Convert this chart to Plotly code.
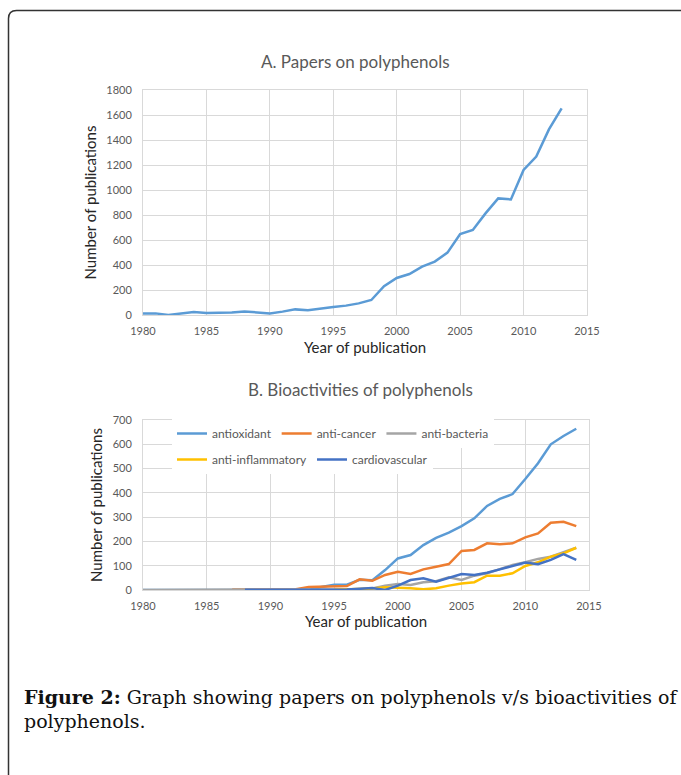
import plotly.graph_objects as go

W, H = 681, 775

# ---- data ----
years_a = list(range(1980, 2014))
papers = [13, 13, 0, 13, 24, 16, 16, 21, 29, 21, 13, 27, 45, 38, 48, 64, 75, 93, 120,
          230, 296, 328, 387, 427, 499, 648, 680, 813, 933, 925, 1160, 1267, 1485, 1653]

years_b = list(range(1980, 2015))
antioxidant = [0, 0, 3, 0, 2, 0, 0, 0, 0, 0, 0, 0, 0, 0, 12, 22, 22, 42, 40, 82,
               130, 144, 185, 215, 236, 263, 295, 346, 375, 395, 457, 522, 600, 634, 664]
anti_cancer = [None] * 7 + [2, 2, 1, 1, 2, 3, 12, 13, 14, 16, 44, 38, 62, 75, 66, 85, 96,
                            107, 161, 165, 192, 188, 192, 217, 233, 277, 281, 263]
anti_bacteria = [0] * 17 + [3, 6, 18, 25, 21, 32, 36, 52, 41, 59, 69, 86, 103, 114, 128,
                            137, 154, 174]
anti_inflammatory = [None] * 15 + [1, 2, 4, 6, 11, 10, 7, 3, 7, 18, 27, 32, 59, 59, 69,
                                   99, 114, 137, 151, 174]
cardiovascular = [None] * 8 + [1, 1, 1, 1, 2, 2, 2, 2, 2, 5, 8, 0, 18, 41, 48, 34, 51, 66,
                               62, 71, 85, 100, 113, 106, 124, 148, 124]

series_b = [
    ("antioxidant", antioxidant, "#5B9BD5", "legend"),
    ("anti-cancer", anti_cancer, "#ED7D31", "legend"),
    ("anti-bacteria", anti_bacteria, "#A5A5A5", "legend"),
    ("anti-inflammatory", anti_inflammatory, "#FFC000", "legend2"),
    ("cardiovascular", cardiovascular, "#4472C4", "legend2"),
]

FONT = "Lato"
GRAY = "#595959"
GRID = "#D9D9D9"


def px_x(p):
    return p / W


def px_y(p):
    return 1 - p / H


fig = go.Figure()

fig.add_trace(go.Scatter(x=years_a, y=papers, mode="lines", xaxis="x", yaxis="y",
                         line=dict(color="#5B9BD5", width=2.5), showlegend=False,
                         name="polyphenols"))

for name, vals, col, lg in series_b:
    fig.add_trace(go.Scatter(x=years_b, y=vals, mode="lines", xaxis="x2", yaxis="y2",
                             line=dict(color=col, width=2.5), name=name, legend=lg))

axis_common = dict(showgrid=True, gridcolor=GRID, gridwidth=1, zeroline=False,
                   showline=True, linecolor=GRID, mirror=True, automargin=False,
                   tickfont=dict(family=FONT, size=11, color=GRAY), ticks="")
title_font = dict(family=FONT, size=15, color="#262626")
legend_font = dict(family=FONT, size=12, color=GRAY)

fig.update_layout(
    width=W, height=H,
    margin=dict(l=0, r=0, t=0, b=0, pad=0, autoexpand=False),
    paper_bgcolor="white", plot_bgcolor="white",
    font=dict(family=FONT, color=GRAY),
    xaxis=dict(domain=[px_x(143), px_x(587)], anchor="y", range=[1980, 2015],
               dtick=5, tick0=1980, ticklabelstandoff=6,
               title=dict(text="Year of publication", standoff=6, font=title_font),
               **axis_common),
    yaxis=dict(domain=[px_y(315), px_y(90)], anchor="x", range=[0, 1800], dtick=200,
               ticklabelstandoff=8,
               title=dict(text="Number of publications", standoff=6, font=title_font),
               **axis_common),
    xaxis2=dict(domain=[px_x(143), px_x(589)], anchor="y2", range=[1980, 2015],
                dtick=5, tick0=1980, ticklabelstandoff=6,
                title=dict(text="Year of publication", standoff=4, font=title_font),
                **axis_common),
    yaxis2=dict(domain=[px_y(590), px_y(420)], anchor="x2", range=[0, 700], dtick=100,
                ticklabelstandoff=8,
                title=dict(text="Number of publications", standoff=6, font=title_font),
                **axis_common),
    legend=dict(orientation="h", x=px_x(172), y=px_y(419), xanchor="left", yanchor="top",
                bgcolor="white", font=legend_font, itemwidth=30),
    legend2=dict(orientation="h", x=px_x(172), y=px_y(445), xanchor="left", yanchor="top",
                 bgcolor="white", font=legend_font, itemwidth=30),
)

fig.add_annotation(text="A. Papers on polyphenols", xref="paper", yref="paper",
                   x=px_x(355), y=px_y(61), xanchor="center", yanchor="middle",
                   showarrow=False, font=dict(family=FONT, size=17, color=GRAY))
fig.add_annotation(text="B. Bioactivities of polyphenols", xref="paper", yref="paper",
                   x=px_x(360), y=px_y(390), xanchor="center", yanchor="middle",
                   showarrow=False, font=dict(family=FONT, size=17, color=GRAY))

fig.add_annotation(text="<b>Figure 2:</b> Graph showing papers on polyphenols v/s bioactivities of",
                   xref="paper", yref="paper", x=px_x(22), y=px_y(697),
                   xanchor="left", yanchor="middle", showarrow=False,
                   font=dict(family="DejaVu Serif", size=19, color="#111111"))
fig.add_annotation(text="polyphenols.",
                   xref="paper", yref="paper", x=px_x(22), y=px_y(721),
                   xanchor="left", yanchor="middle", showarrow=False,
                   font=dict(family="DejaVu Serif", size=19, color="#111111"))

# rounded frame
x0, y0, r = px_x(8.5), px_y(10.5), 8
path = (f"M {x0},{px_y(780)} L {x0},{px_y(10.5 + r)} "
        f"Q {x0},{y0} {px_x(8.5 + r)},{y0} L {px_x(700)},{y0}")
fig.add_shape(type="path", xref="paper", yref="paper", path=path,
              line=dict(color="#333333", width=1.5))

fig.write_html("out.html", config={"displayModeBar": False},
               post_script="document.body.style.margin='0';document.body.style.overflow='hidden';")
